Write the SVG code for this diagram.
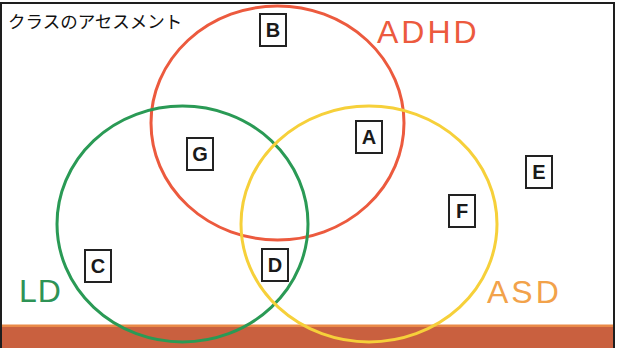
<svg xmlns="http://www.w3.org/2000/svg" width="620" height="348" viewBox="0 0 620 348">
  <style>
    .ring { fill: none; stroke-width: 3; }
    .box rect { fill: #ffffff; stroke: #222222; stroke-width: 2; }
    .box text { font-family: "Liberation Sans", Arial, sans-serif; font-weight: bold; font-size: 20px; fill: #1a1a1a; text-anchor: middle; }
    .lbl { font-family: "Liberation Sans", Arial, sans-serif; font-size: 32px; letter-spacing: 3px; }
    .title { font-family: "Noto Sans CJK JP", "Noto Sans", sans-serif; font-size: 17.5px; fill: #111111; }
  </style>
  <rect x="0" y="0" width="620" height="348" fill="#ffffff"/>
  <!-- bottom band -->
  <rect x="0" y="325" width="614" height="23" fill="#c9603f"/>
  <rect x="0" y="324.5" width="614" height="2.5" fill="#ea8a48"/>
  <!-- frame -->
  <path d="M1 348 V3 H614 V348" fill="none" stroke="#1e1e1e" stroke-width="2"/>
  <text class="title" x="8" y="28">クラスのアセスメント</text>

  <g id="connectors">
    <ellipse id="ring-adhd" class="ring" cx="277.5" cy="123" rx="126.5" ry="117" stroke="#ec5a3e"/>
    <ellipse id="ring-ld" class="ring" cx="182.5" cy="224" rx="125.5" ry="118" stroke="#2a9a55"/>
    <ellipse id="ring-asd" class="ring" cx="369" cy="224" rx="128" ry="118" stroke="#f6d03a"/>
  </g>

  <g id="label-adhd"><text class="lbl" x="377" y="43" fill="#ec5a3e">ADHD</text></g>
  <g id="label-ld"><text class="lbl" x="19" y="302" fill="#2e9356" style="letter-spacing:1px">LD</text></g>
  <g id="label-asd"><text class="lbl" x="487" y="303" fill="#f2a24a">ASD</text></g>

  <g id="node-B" class="box"><rect x="260" y="14" width="26" height="32"/><text x="273" y="37">B</text></g>
  <g id="node-A" class="box"><rect x="356" y="121" width="26" height="32"/><text x="369" y="144">A</text></g>
  <g id="node-G" class="box"><rect x="187" y="138" width="26" height="32"/><text x="200" y="161">G</text></g>
  <g id="node-D" class="box"><rect x="262" y="249" width="26" height="32"/><text x="275" y="272">D</text></g>
  <g id="node-C" class="box"><rect x="85" y="250" width="26" height="32"/><text x="98" y="273">C</text></g>
  <g id="node-F" class="box"><rect x="449" y="195" width="26" height="32"/><text x="462" y="218">F</text></g>
  <g id="node-E" class="box"><rect x="526" y="156" width="26" height="32"/><text x="539" y="179">E</text></g>
</svg>
